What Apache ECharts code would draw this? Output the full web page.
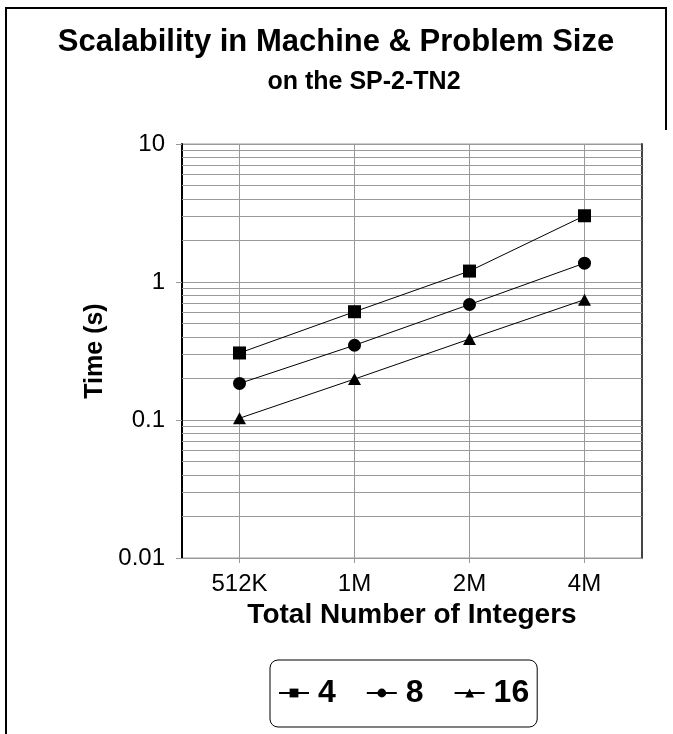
<!DOCTYPE html>
<html>
<head>
<meta charset="utf-8">
<title>Scalability in Machine &amp; Problem Size</title>
<script src="https://cdn.jsdelivr.net/npm/echarts@6/dist/echarts.min.js"></script>
<style>
  html, body { margin: 0; padding: 0; background: #fff; }
  #chart { width: 673px; height: 734px; }
</style>
</head>
<body>
<div id="chart"></div>
<script>
(function() {
    'use strict';

    // problem sizes on the x axis
    const sizes = ['512K', '1M', '2M', '4M'];

    // time in seconds, one list per machine size (number of processors)
    const time4 = [0.306, 0.609, 1.2, 3.02];
    const time8 = [0.184, 0.348, 0.687, 1.37];
    const time16 = [0.103, 0.198, 0.386, 0.745];

    // log axis ticks
    const majorTicks = [0.01, 0.1, 1, 10];
    const minorTicks = [
        0.02, 0.03, 0.04, 0.05, 0.06, 0.07, 0.08, 0.09,
        0.2, 0.3, 0.4, 0.5, 0.6, 0.7, 0.8, 0.9,
        2, 3, 4, 5, 6, 7, 8, 9
    ];

    const gridGray = '#9a9a9a';
    const font = '"Liberation Sans", Arial, sans-serif';

    const chart = echarts.init(document.getElementById('chart'), null, { renderer: 'canvas' });

    function lineSeries(name, data, symbol) {
        return {
            name: name,
            type: 'line',
            data: data,
            symbol: symbol,
            symbolSize: symbol === 'triangle' ? [13, 12] : 13,
            showSymbol: true,
            lineStyle: { color: '#000', width: 1 },
            itemStyle: { color: '#000' },
            z: 5
        };
    }

    const option = {
        backgroundColor: '#fff',
        animation: false,
        title: [
            {
                text: 'Scalability in Machine & Problem Size',
                left: 331,
                textAlign: 'center',
                top: 20,
                textStyle: { fontFamily: font, fontSize: 31, fontWeight: 'bold', color: '#000', lineHeight: 35 }
            },
            {
                text: 'on the SP-2-TN2',
                left: 359,
                textAlign: 'center',
                top: 63,
                textStyle: { fontFamily: font, fontSize: 25, fontWeight: 'bold', color: '#000', lineHeight: 28 }
            }
        ],
        legend: {
            left: 270,
            top: 660,
            orient: 'horizontal',
            padding: [14, 8, 15, 8],
            itemWidth: 30,
            itemHeight: 11,
            itemGap: 30,
            borderColor: '#000',
            borderWidth: 1,
            borderRadius: 8,
            backgroundColor: '#fff',
            data: ['4', '8', '16'],
            textStyle: {
                fontFamily: font, fontSize: 32, fontWeight: 'bold', color: '#000',
                lineHeight: 38, padding: [0, 0, 0, 4]
            }
        },
        grid: {
            left: 182,
            top: 144,
            width: 460,
            height: 414,
            show: true,
            borderColor: gridGray,
            borderWidth: 1,
            containLabel: false
        },
        xAxis: {
            type: 'category',
            data: sizes,
            boundaryGap: true,
            name: 'Total Number of Integers',
            nameLocation: 'middle',
            nameGap: 37,
            nameTextStyle: { fontFamily: font, fontSize: 28, fontWeight: 'bold', color: '#000' },
            axisLine: { show: true, lineStyle: { color: gridGray, width: 1 } },
            axisTick: { show: true, alignWithLabel: true, length: 5, lineStyle: { color: gridGray } },
            axisLabel: { fontFamily: font, fontSize: 24, color: '#000', margin: 14 },
            splitLine: { show: false }
        },
        yAxis: [
            {
                type: 'log',
                logBase: 10,
                min: 0.01,
                max: 10,
                name: 'Time (s)',
                nameLocation: 'middle',
                nameRotate: 90,
                nameGap: 62,
                nameTextStyle: { fontFamily: font, fontSize: 25, fontWeight: 'bold', color: '#000' },
                axisLine: { show: true, lineStyle: { color: '#000', width: 2 } },
                axisTick: { show: true, length: 6, lineStyle: { color: gridGray } },
                axisLabel: {
                    fontFamily: font, fontSize: 24, color: '#000', margin: 17,
                    formatter: function(v) {
                        const hit = majorTicks.find(function(t) { return Math.abs(t - v) / t < 1e-6; });
                        return hit !== undefined ? String(hit) : '';
                    }
                },
                splitLine: { show: true, lineStyle: { color: gridGray, width: 1 } },
                minorTick: { show: false },
                minorSplitLine: { show: false }
            },
            {
                type: 'log',
                logBase: 10,
                min: 0.01,
                max: 10,
                position: 'right',
                axisLine: { show: true, lineStyle: { color: '#444', width: 2 } },
                axisTick: { show: false },
                axisLabel: { show: false },
                splitLine: { show: false }
            }
        ],
        series: [
            {
                name: 'gridlines',
                type: 'line',
                data: [],
                silent: true,
                z: 1,
                markLine: {
                    silent: true,
                    symbol: 'none',
                    label: { show: false },
                    animation: false,
                    lineStyle: { color: gridGray, type: 'solid', width: 1 },
                    emphasis: { disabled: true },
                    data: sizes.map(function(s) { return { xAxis: s }; })
                        .concat(minorTicks.map(function(v) { return { yAxis: v }; }))
                }
            },
            lineSeries('4', time4, 'rect'),
            lineSeries('8', time8, 'circle'),
            lineSeries('16', time16, 'triangle')
        ],
        graphic: [
            {
                type: 'polyline',
                silent: true,
                shape: { points: [[6, 734], [6, 8], [666, 8], [666, 130]] },
                style: { stroke: '#000', lineWidth: 2, fill: null }
            }
        ]
    };

    chart.setOption(option);
})();
</script>
</body>
</html>
